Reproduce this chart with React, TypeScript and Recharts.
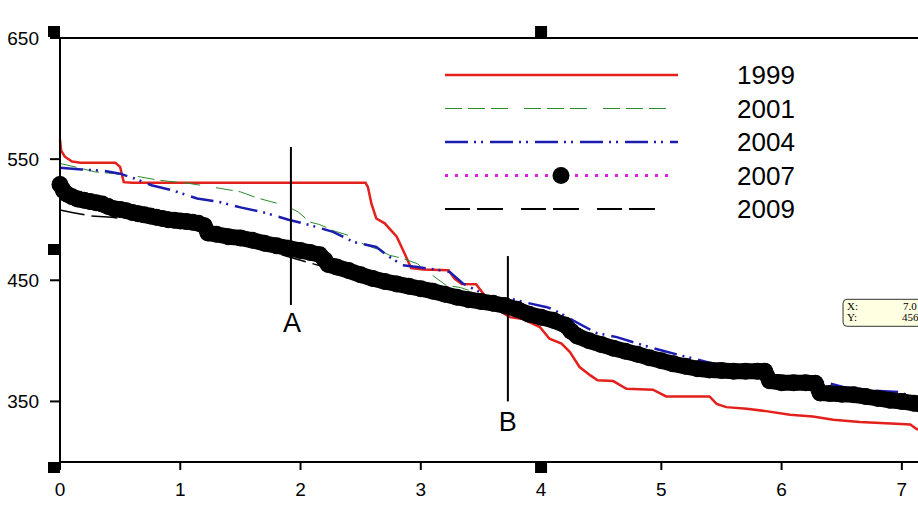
import React from 'react';
import { LineChart, Line, XAxis, YAxis, ReferenceLine, ReferenceDot, Legend } from 'recharts';

const xTicks = [0, 1, 2, 3, 4, 5, 6, 7];
const yTicks = [350, 450, 550, 650];

// [x, value]
const pts1999 = [
  [0, 566], [0.01, 557], [0.04, 552], [0.1, 548], [0.17, 547], [0.46, 547], [0.5, 543.6], [0.53, 531],
  [0.6, 530.5], [2.54, 530.5], [2.56, 527], [2.59, 513], [2.63, 501], [2.7, 497], [2.8, 486], [2.87, 471],
  [2.92, 460], [3.02, 459], [3.23, 458.3], [3.28, 451.4], [3.34, 447], [3.46, 446.7], [3.55, 435],
  [3.65, 425], [3.74, 419.6], [3.85, 418], [3.99, 411.4], [4.07, 401.8], [4.17, 397.7], [4.24, 390.7],
  [4.32, 378.4], [4.41, 371.5], [4.47, 367.4], [4.6, 366.8], [4.71, 360.5], [4.93, 359.7], [5.04, 354.1],
  [5.4, 354.1], [5.46, 348], [5.54, 345.3], [5.71, 344], [5.87, 342], [6.07, 339], [6.26, 337.6],
  [6.43, 334.9], [6.65, 333], [6.95, 331.6], [7.07, 331], [7.12, 327.4], [7.2, 325],
];

const pts2001 = [
  [0, 546.4], [0.125, 543.6], [0.29, 539.5], [0.46, 538], [0.665, 535.4], [0.82, 532.6], [1.07, 530],
  [1.29, 526.6], [1.5, 523], [1.64, 518], [1.76, 514.7], [1.87, 512], [1.98, 506.4], [2.08, 498],
  [2.16, 496], [2.27, 491], [2.44, 485.8], [2.52, 480], [2.63, 476], [2.74, 470.7], [2.85, 468],
  [2.97, 463.8], [3.02, 459.7], [3.21, 445.9], [3.33, 444], [3.44, 440.3], [3.52, 435], [3.7, 431],
  [4.0, 421], [4.3, 407], [4.56, 399], [5.0, 386], [5.4, 377], [5.74, 369], [6.0, 367], [6.3, 360],
  [6.7, 356], [7.13, 350],
];

const pts2004 = [
  [0, 542.8], [0.18, 541.5], [0.37, 540.3], [0.5, 538], [0.62, 534], [0.76, 528.5], [0.93, 524.4],
  [1.14, 517.5], [1.32, 514.7], [1.51, 510], [1.68, 506.4], [1.9, 500], [2.08, 495.5], [2.27, 490],
  [2.44, 481.7], [2.63, 477.5], [2.74, 469.3], [2.85, 462.4], [2.97, 461], [3.16, 458.3], [3.24, 456.9],
  [3.35, 447.3], [3.49, 440.3], [3.57, 434.9], [3.74, 435], [3.85, 432.1], [4.04, 428], [4.1, 426],
  [4.24, 418.3], [4.46, 406.5], [4.63, 403.1], [4.85, 396.3], [5.02, 391.6], [5.24, 386], [5.4, 382],
  [5.7, 376], [5.98, 371.5], [6.35, 366], [6.51, 362], [6.76, 359], [6.98, 357.7], [7.12, 352.5],
];

const pts2007 = [
  [0, 529], [0.03, 524], [0.06, 521], [0.1, 519], [0.15, 517], [0.2, 516], [0.25, 515], [0.3, 514],
  [0.35, 513], [0.4, 511], [0.45, 509], [0.5, 508.5], [0.55, 507.5], [0.6, 506], [0.65, 505], [0.7, 504],
  [0.75, 503], [0.8, 502], [0.85, 501], [0.9, 500], [0.95, 499.5], [1.0, 499], [1.05, 498.5], [1.1, 498],
  [1.15, 497], [1.2, 495], [1.23, 489], [1.3, 488], [1.4, 486], [1.5, 485], [1.6, 483], [1.7, 480.5],
  [1.8, 478.5], [1.9, 476.5], [2.0, 474.5], [2.08, 473], [2.16, 471], [2.2, 467], [2.23, 463], [2.3, 461],
  [2.4, 458], [2.5, 454.5], [2.6, 451.5], [2.7, 449], [2.8, 447], [2.9, 445], [3.0, 443], [3.1, 441],
  [3.2, 438.5], [3.3, 436], [3.4, 434], [3.5, 432.5], [3.6, 431], [3.7, 429], [3.8, 426], [3.9, 422],
  [4.0, 419.5], [4.1, 417], [4.2, 413], [4.25, 408], [4.3, 404], [4.4, 400], [4.5, 397], [4.6, 394],
  [4.7, 391.5], [4.8, 389], [4.9, 386], [5.0, 383.5], [5.1, 381], [5.2, 379], [5.3, 377], [5.4, 376],
  [5.5, 375.5], [5.6, 375], [5.7, 375], [5.8, 375], [5.86, 375], [5.9, 367], [6.0, 365.5], [6.1, 365.5],
  [6.2, 365.5], [6.28, 365], [6.32, 357], [6.4, 356.5], [6.5, 356], [6.6, 355.5], [6.7, 354], [6.8, 352.5],
  [6.9, 351], [7.0, 350], [7.1, 348.5], [7.15, 348],
];

const pts2009 = [
  [0, 508], [0.1, 506], [0.26, 503], [0.43, 502], [0.7, 499], [1.0, 495], [1.2, 492], [1.3, 485],
  [1.6, 478], [1.95, 468], [2.09, 464], [2.3, 458], [2.6, 450], [3.0, 442], [3.5, 432], [4.0, 420],
  [4.3, 405], [4.6, 395], [5.02, 387], [5.13, 386], [5.5, 376], [5.9, 370], [6.3, 362], [6.7, 355],
  [7.13, 349],
];

const toRows = (pts: number[][]) => pts.map(([x, y]) => ({ x, y }));

const series = [
  { name: '1999', pts: pts1999, color: '#e3201b', width: 2.5, dash: undefined, legendEnd: 238 },
  { name: '2001', pts: pts2001, color: '#2a8c2a', width: 1, dash: '17 6 17 6 17 16', legendEnd: 237 },
  { name: '2004', pts: pts2004, color: '#1c1cb0', width: 2.5, dash: '23 6 2 5 2 7', legendEnd: 238 },
  { name: '2007', pts: pts2007, color: '#e020e0', width: 3, dash: '3 7', legendEnd: 232 },
  { name: '2009', pts: pts2009, color: '#000000', width: 1.5, dash: '25 7 26 18', legendEnd: 220 },
];

const drawOrder = ['1999', '2001', '2004', '2009', '2007'];

// corner handles of the selected plot
const handles = [
  [0, 650, -6, -6], [4, 650, 0, -6], [0, 475, -6, 0], [0, 300, -6, 6], [4, 300, 0, 6],
];

const font = '"Liberation Sans", Arial, sans-serif';

const LegendBox = () => (
  <svg width={400} height={175} style={{ display: 'block' }}>
    {series.map((s, i) => {
      const y = 20 + i * 33.5;
      return (
        <g key={s.name}>
          <line x1={5} x2={s.legendEnd} y1={y} y2={y} stroke={s.color}
            strokeWidth={s.name === '2009' ? 2 : s.width} strokeDasharray={s.dash} />
          {s.name === '2007' && <circle cx={121} cy={y} r={8.5} fill="#000" />}
          <text x={297} y={y} dominantBaseline="central" fontSize={26} fontFamily={font} fill="#000">{s.name}</text>
        </g>
      );
    })}
  </svg>
);

const Handle = (dx: number, dy: number) => (p: any) => (
  <rect x={p.cx + dx - 6} y={p.cy + dy - 6} width={12} height={11} fill="#000" />
);

const Letter = (t: string) => (p: any) => (
  <text x={p.cx} y={p.cy} textAnchor="middle" dominantBaseline="central" fontSize={27} fontFamily={font} fill="#000">{t}</text>
);

const InfoBox = (p: any) => (
  <g fontFamily='"Liberation Serif", serif' fontSize={11} fill="#000">
    <rect x={p.cx} y={p.cy} width={110} height={27} rx={4} fill="#ffffe1" stroke="#333" strokeWidth={1} />
    <text x={p.cx + 4} y={p.cy + 11}>X:</text>
    <text x={p.cx + 4} y={p.cy + 22}>Y:</text>
    <text x={p.cx + 60} y={p.cy + 11}>7.0</text>
    <text x={p.cx + 59} y={p.cy + 22}>456</text>
  </g>
);

export default function App() {
  return (
    <div style={{ position: 'fixed', left: 0, top: 0, width: 918, height: 505, overflow: 'hidden', background: '#fff' }}>
      <LineChart width={962} height={505} margin={{ top: 38, right: 0, left: 0, bottom: 0 }} style={{ fontFamily: font }}>
        <XAxis dataKey="x" type="number" domain={[0, 7.5]} ticks={xTicks} height={43} tickSize={8} tickMargin={13}
          axisLine={{ stroke: '#000', strokeWidth: 2 }} tickLine={{ stroke: '#000', strokeWidth: 2 }}
          tick={{ fontSize: 19, fill: '#000', fontFamily: font }} />
        <YAxis type="number" domain={[300, 650]} ticks={yTicks} width={60} tickSize={10} tickMargin={11}
          axisLine={{ stroke: '#000', strokeWidth: 2 }} tickLine={{ stroke: '#000', strokeWidth: 2 }}
          tick={{ fontSize: 19, fill: '#000', fontFamily: font }} />
        <ReferenceLine y={650} stroke="#000" strokeWidth={2} />
        {drawOrder.map((name) => {
          const s = series.find((d) => d.name === name)!;
          const band = name === '2007';
          return (
            <React.Fragment key={name}>
              {band && (
                // the 2007 markers sit so close that they merge into one thick band
                <Line data={toRows(s.pts)} dataKey="y" type="linear" stroke="#000" strokeWidth={16}
                  strokeLinejoin="round" strokeLinecap="round" dot={false} activeDot={false}
                  legendType="none" isAnimationActive={false} />
              )}
              <Line name={name} data={toRows(s.pts)} dataKey="y" type="linear" stroke={s.color}
                strokeWidth={s.width} strokeDasharray={s.dash}
                dot={band ? { r: 8.5, fill: '#000', stroke: 'none' } : false}
                activeDot={false} isAnimationActive={false} />
            </React.Fragment>
          );
        })}
        <ReferenceLine segment={[{ x: 1.92, y: 560 }, { x: 1.92, y: 429.6 }]} stroke="#000" strokeWidth={2} />
        <ReferenceLine segment={[{ x: 3.724, y: 470 }, { x: 3.724, y: 350 }]} stroke="#000" strokeWidth={2} />
        <ReferenceDot x={1.93} y={414.7} shape={Letter('A')} />
        <ReferenceDot x={3.724} y={333} shape={Letter('B')} />
        <ReferenceDot x={6.511} y={434.3} shape={InfoBox} />
        {handles.map(([x, y, dx, dy], i) => (
          <ReferenceDot key={i} x={x} y={y} shape={Handle(dx, dy)} />
        ))}
        <Legend layout="vertical" align="center" verticalAlign="middle"
          wrapperStyle={{ left: 440, top: 55, width: 400, height: 175 }} content={() => <LegendBox />} />
      </LineChart>
    </div>
  );
}
